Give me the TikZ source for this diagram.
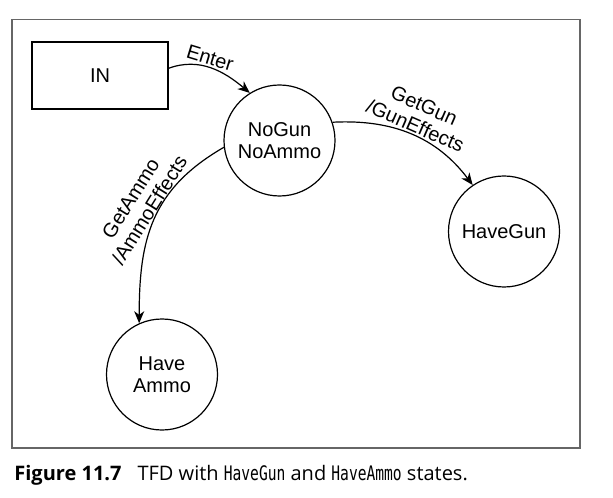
\documentclass[tikz,border=0pt]{standalone}
\usepackage{fontspec}
\setmainfont{Liberation Sans}
\newfontfamily\capfont{Open Sans}
\newfontfamily\capmono[FakeStretch=0.73]{DejaVu Sans Mono}
\usetikzlibrary{arrows.meta}
\begin{document}
\begin{tikzpicture}[x=0.5pt,y=0.5pt]
				\def\rd{55.5pt}
				\tikzset{s/.style={draw,circle,line width=0.6pt,inner sep=0pt,minimum size=\rd,align=center,font=\fontsize{10}{11}\selectfont},
					b/.style={draw,rectangle,line width=0.6pt,minimum width=68pt,minimum height=33.5pt,font=\fontsize{10}{11}\selectfont},
					l/.style={sloped,above,align=center,inner sep=1pt,font=\fontsize{10}{11}\selectfont},
					a/.style={line width=0.6pt,-{Stealth[length=6pt,width=5pt,inset=1.8pt]}}}
				\useasboundingbox(0,0)rectangle(613,497);
				\draw[black!60,line width=0.6pt](12,49)rectangle(580,477.5);
				\path(100,421.5)node[b](IN){IN}
				(279.5,356.5)node[s](NG){NoGun\\NoAmmo}
				(504,265.5)node[s](HG){HaveGun}
				(162,122.5)node[s](HA){Have\\Ammo};
				\foreach \x/\y/\o/\i/\lo in {
					IN.6/NG.122/20/140/1,
					NG.19/HG.124/3/127/1,
					NG.187/HA.114/210/90/1.1}
				\draw[a](\x)to[out=\o,in=\i,looseness=\lo](\y);
				\path(IN.6)to[out=20,in=140]node[l,pos=0.45]{Enter}(NG.122)
				(NG.19)to[out=3,in=127]node[l,pos=0.5]{GetGun\\/GunEffects}(HG.124)
				(NG.187)to[out=210,in=90,looseness=1.1]node[l,sloped=false,above=0pt,rotate=58,anchor=south,inner sep=0.5pt,pos=0.47]{GetAmmo\\/AmmoEffects}(HA.114);
				\path(14,17)node[anchor=base west,inner sep=0pt,font=\fontsize{10}{12}\selectfont](cap){{\capfont\bfseries Figure 11.7}\hspace{8pt}\capfont TFD with {\capmono HaveGun} and {\capmono HaveAmmo} states.};
			\end{tikzpicture}
\end{document}
